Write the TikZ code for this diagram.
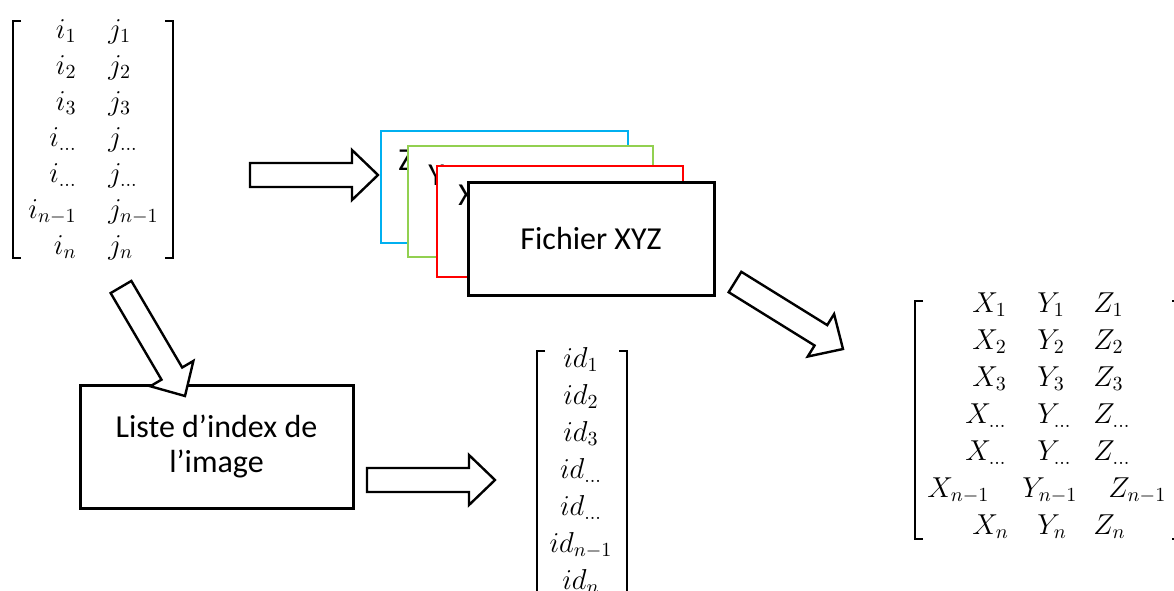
\documentclass[tikz,border=0pt]{standalone}
\usepackage{fontspec}
\setmainfont{Carlito}
\usetikzlibrary{calc}

\definecolor{zblue}{HTML}{00B0F0}
\definecolor{ygreen}{HTML}{92D050}
\definecolor{xred}{HTML}{FF0000}

\tikzset{
    filebox/.style={line width=1.5pt, fill=white},
    blk/.style={line width=1.2pt, fill=white, line join=miter},
    brk/.style={line width=1pt},
    ent/.style={font=\fontsize{14.4}{17}\selectfont, inner sep=0pt},
    lbl/.style={font=\fontsize{16}{17.5}\selectfont}
}

% hollow block arrow from #1 to #2
\newcommand{\blockarrow}[2]{%
    \coordinate (hb) at ($(#2)!13pt!(#1)$);
    \draw[blk] ($(#1)!6pt!90:(#2)$) -- ($(hb)!6pt!90:(#2)$) -- ($(hb)!12.5pt!90:(#2)$)
        -- (#2) -- ($(hb)!12.5pt!-90:(#2)$) -- ($(hb)!6pt!-90:(#2)$)
        -- ($(#1)!6pt!-90:(#2)$) -- cycle;
}

\begin{document}
\begin{tikzpicture}[x=0.5pt, y=-0.5pt]
        \useasboundingbox (0,0) rectangle (1174,590);
        \clip (0,0) rectangle (1174,590);

        % Pixel index matrix
        \draw[brk] (21,21) -- (13,21) -- (13,258) -- (21,258);
        \draw[brk] (165,21) -- (173,21) -- (173,258) -- (165,258);
        \foreach \s [count=\k] in {1,2,3,\ldots,\ldots,n-1,n} {
            \node[ent, anchor=base east] (i\k) at (77,{2+36*\k}) {$i_{\s}$};
            \node[ent, anchor=base west] (j\k) at (108,{2+36*\k}) {$j_{\s}$};
        }

        % XYZ files
        \draw[filebox, line width=1.2pt, draw=zblue] (381,131) rectangle (628,243);
        \node[lbl, inner sep=0pt, anchor=base west] (zl) at (398,170) {Z};
        \draw[filebox, line width=1.2pt, draw=ygreen] (408,146) rectangle (653,257);
        \node[lbl, inner sep=0pt, anchor=base west] (yl) at (428,185) {Y};
        \draw[filebox, line width=1.2pt, draw=xred] (437,166) rectangle (683,277);
        \node[lbl, inner sep=0pt, anchor=base west] (xl) at (458,205) {X};
        \draw[filebox] (468,182) rectangle (714,295) node[midway, lbl] (xyz) {Fichier XYZ};

        % Index list
        \draw[filebox] (80,385) rectangle (353,508)
            node[midway, lbl, align=center] (liste) {Liste d’index de\\l’image};

        % Id vector
        \draw[brk] (545,351) -- (537,351) -- (537,600);
        \draw[brk] (619,351) -- (627,351) -- (627,600);
        \foreach \s [count=\k] in {1,2,3,\ldots,\ldots,n-1,n}
            \node[ent, anchor=base] (id\k) at (581,{330+37*\k}) {$id_{\s}$};

        % Coordinates matrix
        \draw[brk] (923,301) -- (915,301) -- (915,539) -- (923,539);
        \draw[brk] (1172,301) -- (1180,301) -- (1180,539) -- (1172,539);
        \foreach \s/\xa/\ya/\za [count=\k] in {1/972/1037/1093, 2/972/1037/1093,
                3/972/1037/1093, \ldots/965/1037/1093, \ldots/965/1037/1093,
                n-1/927/1022/1108, n/972/1037/1093} {
            \node[ent, anchor=base west] (x\k) at (\xa,{275+37*\k}) {$X_{\s}$};
            \node[ent, anchor=base west] (y\k) at (\ya,{275+37*\k}) {$Y_{\s}$};
            \node[ent, anchor=base west] (z\k) at (\za,{275+37*\k}) {$Z_{\s}$};
        }

        % Block arrows
        \coordinate (a1s) at (250,175);
        \coordinate (a1e) at (378,175);
        \coordinate (a2s) at (121,287);
        \coordinate (a2e) at (185,396);
        \coordinate (a3s) at (735,282);
        \coordinate (a3e) at (843,349);
        \coordinate (a4s) at (367,480);
        \coordinate (a4e) at (495,480);
        \blockarrow{a1s}{a1e}
        \blockarrow{a2s}{a2e}
        \blockarrow{a3s}{a3e}
        \blockarrow{a4s}{a4e}
    \end{tikzpicture}
\end{document}
